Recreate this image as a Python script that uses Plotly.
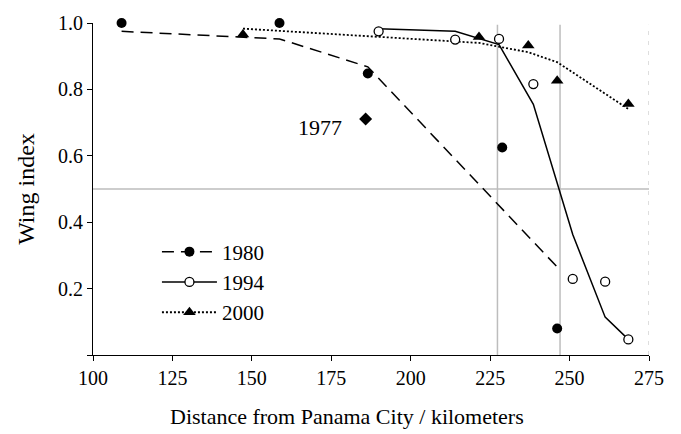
import plotly.graph_objects as go

# 1980 survey
x1980 = [109, 158.7, 186.5, 228.8, 246.1]
y1980 = [1.0, 1.0, 0.848, 0.625, 0.08]
fit1980_x = [109, 158.7, 186.5, 228.8, 246.1]
fit1980_y = [0.975, 0.952, 0.868, 0.44, 0.265]

# 1977 point
x1977 = [185.8]
y1977 = [0.711]

# 1994 survey
x1994 = [189.9, 214, 227.8, 238.6, 251, 261.2, 268.5]
y1994 = [0.975, 0.95, 0.952, 0.816, 0.229, 0.221, 0.047]
fit1994_x = [189.9, 214, 227.8, 238.6, 251, 261.2, 268.5]
fit1994_y = [0.983, 0.975, 0.935, 0.755, 0.363, 0.114, 0.047]

# 2000 survey
x2000 = [147.2, 221.5, 237, 246.1, 268.5]
y2000 = [0.965, 0.958, 0.932, 0.826, 0.756]
fit2000_x = [147.2, 221.5, 237, 246.1, 268.5]
fit2000_y = [0.983, 0.94, 0.912, 0.882, 0.741]

# reference lines
ref_x = [227.3, 247.0]
ref_y = 0.5
x_ticks = [100, 125, 150, 175, 200, 225, 250, 275]
y_ticks = [0, 0.2, 0.4, 0.6, 0.8, 1.0]
y_labels = ["", "0.2", "0.4", "0.6", "0.8", "1.0"]

FONT = "Liberation Serif"
GRAY = "#bdbdbd"
fig = go.Figure()

# gray guide lines
for xv in ref_x:
    fig.add_trace(go.Scatter(x=[xv, xv], y=[0, 0.995], mode="lines",
                             line=dict(color=GRAY, width=1.5), showlegend=False, hoverinfo="skip"))
fig.add_trace(go.Scatter(x=[100, 275], y=[ref_y, ref_y], mode="lines",
                         line=dict(color=GRAY, width=1.5), showlegend=False, hoverinfo="skip"))
fig.add_trace(go.Scatter(x=[275, 275], y=[0, 0.995], mode="lines",
                         line=dict(color="#c8c8c8", width=1.2, dash="4px,6px"), showlegend=False, hoverinfo="skip"))

# fitted lines
fig.add_trace(go.Scatter(x=fit1980_x, y=fit1980_y, mode="lines",
                         line=dict(color="black", width=1.5, dash="12px,7px"), showlegend=False))
fig.add_trace(go.Scatter(x=fit1994_x, y=fit1994_y, mode="lines",
                         line=dict(color="black", width=1.5), showlegend=False))
fig.add_trace(go.Scatter(x=fit2000_x, y=fit2000_y, mode="lines",
                         line=dict(color="black", width=1.8, dash="2px,2px"), showlegend=False))

# points
fig.add_trace(go.Scatter(x=x1980, y=y1980, mode="markers", cliponaxis=False,
                         marker=dict(symbol="circle", size=10, color="black"), showlegend=False))
fig.add_trace(go.Scatter(x=x1994, y=y1994, mode="markers", cliponaxis=False,
                         marker=dict(symbol="circle", size=9, color="white",
                                     line=dict(color="black", width=1.3)), showlegend=False))
fig.add_trace(go.Scatter(x=x2000, y=y2000, mode="markers", cliponaxis=False,
                         marker=dict(symbol="triangle-up", size=11, color="black"), showlegend=False))
fig.add_trace(go.Scatter(x=x1977, y=y1977, mode="markers", cliponaxis=False,
                         marker=dict(symbol="diamond", size=10, color="black"), showlegend=False))

# legend entries
fig.add_trace(go.Scatter(x=[None], y=[None], mode="lines+markers", name="1980",
                         line=dict(color="black", width=1.5, dash="12px,7px"),
                         marker=dict(symbol="circle", size=10, color="black")))
fig.add_trace(go.Scatter(x=[None], y=[None], mode="lines+markers", name="1994",
                         line=dict(color="black", width=1.5),
                         marker=dict(symbol="circle", size=9, color="white",
                                     line=dict(color="black", width=1.3))))
fig.add_trace(go.Scatter(x=[None], y=[None], mode="lines+markers", name="2000",
                         line=dict(color="black", width=1.8, dash="2px,2px"),
                         marker=dict(symbol="triangle-up", size=11, color="black")))

fig.add_annotation(x=179, y=0.685, text="1977", showarrow=False, xanchor="right", yanchor="middle",
                   font=dict(family=FONT, size=22, color="black"))
fig.add_annotation(x=0.456, y=-0.185, xref="paper", yref="paper",
                   text="Distance from Panama City / kilometers", showarrow=False,
                   xanchor="center", yanchor="middle", font=dict(family=FONT, size=22, color="black"))

fig.update_layout(
    width=681, height=434,
    margin=dict(l=93, r=32, t=20, b=79),
    paper_bgcolor="white", plot_bgcolor="white",
    font=dict(family=FONT, size=20, color="black"),
    showlegend=True,
    legend=dict(x=0.115, y=0.372, xanchor="left", yanchor="top", bgcolor="rgba(0,0,0,0)",
                font=dict(family=FONT, size=21), itemwidth=55, tracegroupgap=0),
    xaxis=dict(range=[100, 275], tickvals=x_ticks, showgrid=False, zeroline=False,
               showline=True, linecolor="black", linewidth=1.2, ticks="outside", ticklen=5,
               tickcolor="black", tickfont=dict(family=FONT, size=20)),
    yaxis=dict(range=[0, 1.0], tickvals=y_ticks, ticktext=y_labels, showgrid=False, zeroline=False,
               showline=True, linecolor="black", linewidth=1.2, ticks="outside", ticklen=5,
               tickcolor="black", tickfont=dict(family=FONT, size=20),
               title=dict(text="Wing index", font=dict(family=FONT, size=24), standoff=16)),
)

fig.write_html("out.html")
